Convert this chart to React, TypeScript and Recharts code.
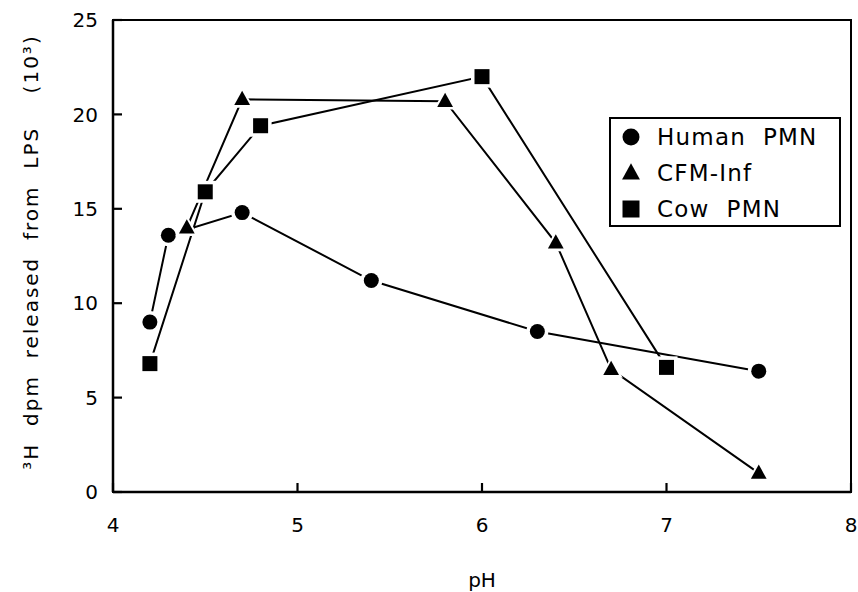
import React from 'react';
import { LineChart, Line, XAxis, YAxis, ReferenceArea, Legend } from 'recharts';

const humanX = [4.2, 4.3, 4.7, 5.4, 6.3, 7.5];
const humanY = [9.0, 13.6, 14.8, 11.2, 8.5, 6.4];
const cfmX = [4.4, 4.7, 5.8, 6.4, 6.7, 7.5];
const cfmY = [14.0, 20.8, 20.7, 13.2, 6.5, 1.0];
const cowX = [4.2, 4.5, 4.8, 6.0, 7.0];
const cowY = [6.8, 15.9, 19.4, 22.0, 6.6];
const xTicks = [4, 5, 6, 7, 8];
const yTicks = [0, 5, 10, 15, 20, 25];
const seriesNames = ['Human\u00a0\u00a0PMN', 'CFM-Inf', 'Cow\u00a0\u00a0PMN'];
const seriesShapes = ['circle', 'triangle', 'square'];
const xTitle = 'pH';
const yTitle = '\u00b3H\u00a0\u00a0dpm\u00a0\u00a0released\u00a0\u00a0from\u00a0\u00a0LPS\u00a0\u00a0\u00a0\u00a0(10\u00b3)';

const toPoints = (xs: number[], ys: number[]) => xs.map((x, i) => ({ x, y: ys[i] }));
const humanData = toPoints(humanX, humanY);
const cfmData = toPoints(cfmX, cfmY);
const cowData = toPoints(cowX, cowY);

const FONT = '"DejaVu Sans", "Liberation Sans", sans-serif';

const Marker = ({ shape, cx, cy, s, halo }: any) => {
  const h = halo || 0;
  const draw = (size: number, fill: string) => {
    if (shape === 'circle') return <circle cx={cx} cy={cy} r={size / 2} fill={fill} />;
    if (shape === 'square')
      return <rect x={cx - size / 2} y={cy - size / 2} width={size} height={size} fill={fill} />;
    const w = size * 1.05;
    const ht = size * 0.95;
    return (
      <polygon
        points={`${cx},${cy - ht * 0.6} ${cx - w / 2},${cy + ht * 0.4} ${cx + w / 2},${cy + ht * 0.4}`}
        fill={fill}
      />
    );
  };
  return (
    <g>
      {h > 0 ? draw(s + h * 2, '#fff') : null}
      {draw(s, '#000')}
    </g>
  );
};

const makeDot = (shape: string) => (props: any) => {
  const { cx, cy, index } = props;
  if (cx == null || cy == null) return <g key={`d-${shape}-${index}`} />;
  return (
    <g key={`d-${shape}-${index}`}>
      <Marker shape={shape} cx={cx} cy={cy} s={15} halo={3.5} />
    </g>
  );
};

const Y_MARGIN = 15;
const X_MARGIN = 40;

const YTick = (props: any) => {
  const { x, y, payload } = props;
  const ax = x + Y_MARGIN;
  return (
    <g>
      <line x1={ax} x2={ax + 9} y1={y} y2={y} stroke="#000" strokeWidth={2.2} />
      <text x={x} y={y} dy="0.36em" textAnchor="end" fontSize={20} fontFamily={FONT} fill="#000">
        {payload.value}
      </text>
    </g>
  );
};

const XTick = (props: any) => {
  const { x, y, payload } = props;
  const ay = y - X_MARGIN;
  return (
    <g>
      <line x1={x} x2={x} y1={ay} y2={ay - 9} stroke="#000" strokeWidth={2.2} />
      <text x={x} y={y} textAnchor="middle" fontSize={20} fontFamily={FONT} fill="#000">
        {payload.value}
      </text>
    </g>
  );
};

const YLabel = (props: any) => {
  const vb = props.viewBox || { x: 0, y: 20, width: 113, height: 472 };
  const cx = vb.x + 31;
  const cy = vb.y + vb.height / 2 - 4;
  return (
    <text
      x={cx}
      y={cy}
      transform={`rotate(-90, ${cx}, ${cy})`}
      textAnchor="middle"
      dominantBaseline="central"
      fontSize={20}
      letterSpacing={2}
      fontFamily={FONT}
      fill="#000"
    >
      {yTitle}
    </text>
  );
};

const XLabel = (props: any) => {
  const vb = props.viewBox || { x: 113, y: 492, width: 738, height: 100 };
  return (
    <text
      x={vb.x + vb.width / 2}
      y={vb.y + 95}
      textAnchor="middle"
      fontSize={20}
      fontFamily={FONT}
      fill="#000"
    >
      {xTitle}
    </text>
  );
};

const renderLegend = () => (
  <div
    style={{
      width: 232,
      height: 110,
      border: '2px solid #000',
      boxSizing: 'border-box',
      background: '#fff',
      fontFamily: FONT,
      fontSize: 23,
      letterSpacing: 1.2,
      color: '#000',
    }}
  >
    {seriesNames.map((name, i) => (
      <div
        key={name}
        style={{ height: 36, display: 'flex', alignItems: 'center', whiteSpace: 'pre' }}
      >
        <svg width={44} height={36} style={{ display: 'block' }}>
          <Marker shape={seriesShapes[i]} cx={20} cy={18} s={17} />
        </svg>
        <span style={{ marginLeft: 2, lineHeight: '36px' }}>{name}</span>
      </div>
    ))}
  </div>
);

export default function App() {
  return (
    <div style={{ position: 'absolute', left: 0, top: 0, background: '#fff' }}>
      <LineChart
        width={858}
        height={592}
        margin={{ top: 20, right: 7, bottom: 0, left: 0 }}
        style={{ background: '#fff' }}
      >
        <XAxis
          type="number"
          dataKey="x"
          domain={[4, 8]}
          ticks={xTicks}
          allowDataOverflow
          height={100}
          tickLine={false}
          tickSize={0}
          tickMargin={X_MARGIN}
          tick={<XTick />}
          axisLine={{ stroke: '#000', strokeWidth: 2.5 }}
          label={{ content: <XLabel /> }}
        />
        <YAxis
          type="number"
          dataKey="y"
          domain={[0, 25]}
          ticks={yTicks}
          allowDataOverflow
          width={113}
          tickLine={false}
          tickSize={0}
          tickMargin={Y_MARGIN}
          tick={<YTick />}
          axisLine={{ stroke: '#000', strokeWidth: 2.5 }}
          label={{ content: <YLabel /> }}
        />
        <ReferenceArea x1={4} x2={8} y1={0} y2={25} fill="none" fillOpacity={0} stroke="#000" strokeWidth={2} />
        <Line
          data={humanData}
          dataKey="y"
          name={seriesNames[0]}
          stroke="#000"
          strokeWidth={2}
          dot={makeDot('circle')}
          activeDot={false}
          isAnimationActive={false}
        />
        <Line
          data={cfmData}
          dataKey="y"
          name={seriesNames[1]}
          stroke="#000"
          strokeWidth={2}
          dot={makeDot('triangle')}
          activeDot={false}
          isAnimationActive={false}
        />
        <Line
          data={cowData}
          dataKey="y"
          name={seriesNames[2]}
          stroke="#000"
          strokeWidth={2}
          dot={makeDot('square')}
          activeDot={false}
          isAnimationActive={false}
        />
        <Legend
          layout="vertical"
          align="center"
          verticalAlign="middle"
          content={renderLegend}
          wrapperStyle={{ position: 'absolute', left: 609, top: 117, width: 232, height: 110 }}
        />
      </LineChart>
    </div>
  );
}
